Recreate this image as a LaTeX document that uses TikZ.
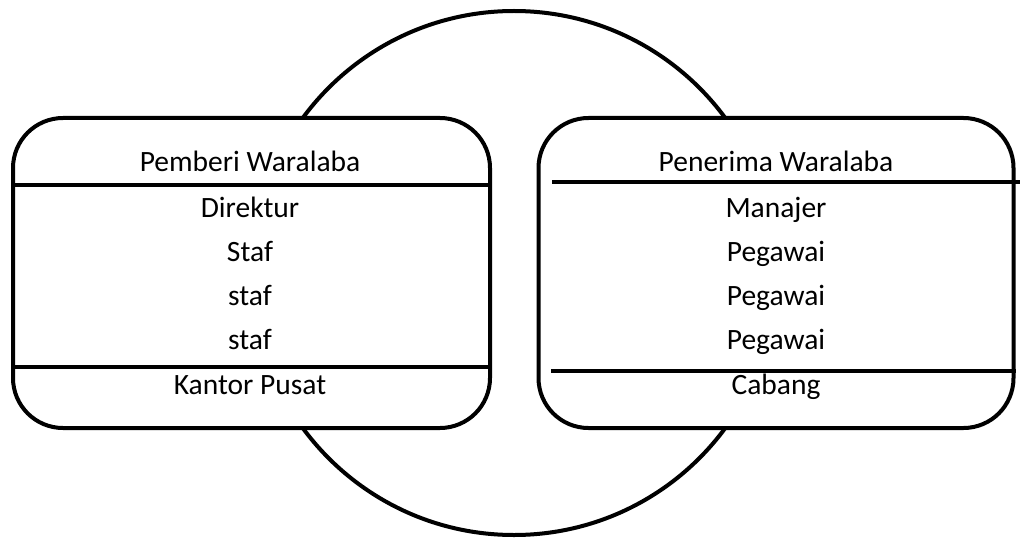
\documentclass[tikz,border=0pt]{standalone}
\usepackage{fontspec}
\setmainfont{Carlito}
\begin{document}
\begin{tikzpicture}[x=1pt,y=-1pt,
  ring/.style={draw,circle,line width=4pt,minimum size=524pt,inner sep=0pt},
  panel/.style={draw,fill=white,line width=4pt,rounded corners=50pt,inner sep=0pt},
  rule/.style={line width=4pt},
  lbl/.style={font=\fontsize{29.5}{33}\selectfont,inner sep=0pt,anchor=base}]
\useasboundingbox (0,0) rectangle (1022,540);
\node[ring] (C) at (514,273) {};
\node[panel,minimum width=477pt,minimum height=310pt] (L) at (251.5,273) {};
\node[panel,minimum width=475pt,minimum height=310pt] (R) at (776,273) {};
% dividing lines
\coordinate (l1a) at (13,185); \coordinate (l1b) at (490,185);
\coordinate (l2a) at (13,367); \coordinate (l2b) at (490,367);
\coordinate (r1a) at (552,182); \coordinate (r1b) at (1020,182);
\coordinate (r2a) at (551,371); \coordinate (r2b) at (1016,371);
\draw[rule] (l1a) -- (l1b);
\draw[rule] (l2a) -- (l2b);
\draw[rule] (r1a) -- (r1b);
\draw[rule] (r2a) -- (r2b);
% labels
\node[lbl] (lt) at (250,172) {Pemberi Waralaba};
\node[lbl] (l1) at (250,217) {Direktur};
\node[lbl] (l2) at (250,261) {Staf};
\node[lbl] (l3) at (250,305) {staf};
\node[lbl] (l4) at (250,349) {staf};
\node[lbl] (lb) at (250,394) {Kantor Pusat};
\node[lbl] (rt) at (776,172) {Penerima Waralaba};
\node[lbl] (r1) at (776,217) {Manajer};
\node[lbl] (r2) at (776,261) {Pegawai};
\node[lbl] (r3) at (776,305) {Pegawai};
\node[lbl] (r4) at (776,349) {Pegawai};
\node[lbl] (rb) at (776,394) {Cabang};
\end{tikzpicture}
\end{document}
